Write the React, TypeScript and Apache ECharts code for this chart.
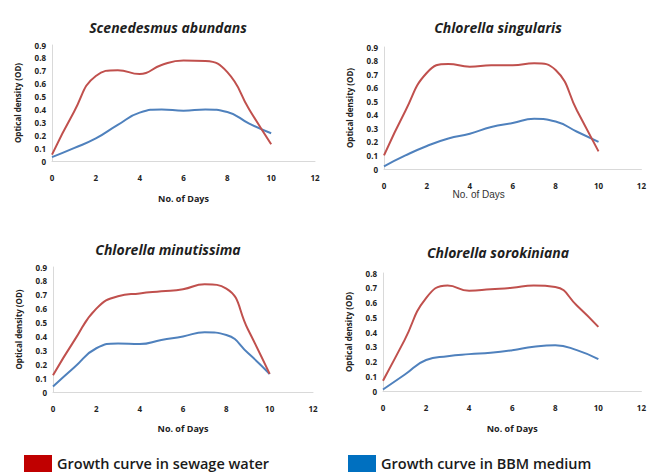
import React, { useEffect, useRef } from "react";
import * as echarts from "echarts";

const days = [0, 1, 2, 3, 4, 5, 6, 7, 8, 9, 10];
const panelTitles = [
  "Scenedesmus abundans",
  "Chlorella singularis",
  "Chlorella minutissima",
  "Chlorella sorokiniana",
];
const sewageLabel = "Growth curve in sewage water";
const bbmLabel = "Growth curve in BBM medium";

const sewageScenedesmus = [0.05, 0.38, 0.66, 0.705, 0.675, 0.745, 0.78, 0.775, 0.69, 0.4, 0.13];
const bbmScenedesmus = [0.03, 0.1, 0.175, 0.28, 0.375, 0.4, 0.39, 0.4, 0.38, 0.29, 0.215];
const sewageSingularis = [0.1, 0.43, 0.71, 0.775, 0.755, 0.765, 0.765, 0.78, 0.73, 0.43, 0.13];
const bbmSingularis = [0.02, 0.1, 0.17, 0.225, 0.26, 0.31, 0.34, 0.37, 0.35, 0.275, 0.2];
const sewageMinutissima = [0.12, 0.375, 0.6, 0.69, 0.71, 0.725, 0.74, 0.775, 0.745, 0.45, 0.13];
const bbmMinutissima = [0.04, 0.18, 0.315, 0.35, 0.345, 0.375, 0.4, 0.43, 0.41, 0.28, 0.13];
const sewageSorokiniana = [0.07, 0.345, 0.63, 0.715, 0.68, 0.69, 0.7, 0.715, 0.705, 0.58, 0.435];
const bbmSorokiniana = [0.01, 0.11, 0.21, 0.236, 0.25, 0.26, 0.277, 0.3, 0.31, 0.277, 0.216];

const yMaxes = [0.9, 0.9, 0.9, 0.8];
const xAxisName = "No. of Days";
const yAxisName = "Optical density (OD)";

const sewageSets = [sewageScenedesmus, sewageSingularis, sewageMinutissima, sewageSorokiniana];
const bbmSets = [bbmScenedesmus, bbmSingularis, bbmMinutissima, bbmSorokiniana];

const grids = [
  { left: 52, top: 45, width: 263, height: 116 },
  { left: 384, top: 47, width: 258, height: 122 },
  { left: 53, top: 267, width: 260, height: 125 },
  { left: 383, top: 273, width: 259, height: 118 },
];
const titlePos = [
  { x: 163, y: 25 },
  { x: 493, y: 25 },
  { x: 163, y: 247 },
  { x: 493, y: 250 },
];
const xNameGaps = [33, 20, 32, 33];

const RED = "#c0504d";
const BLUE = "#4f81bd";
const FONT = "'Open Sans', 'Liberation Sans', sans-serif";

export default function App() {
  const ref = useRef<HTMLDivElement>(null);
  useEffect(() => {
    if (!ref.current) return;
    const chart = echarts.init(ref.current, undefined, { renderer: "svg" });
    const legendText = { fontFamily: FONT, fontSize: 14.5, fontWeight: 600, color: "#1a1a1a" };
    const option: any = {
      animation: false,
      backgroundColor: "#ffffff",
      title: panelTitles.map((t, i) => ({
        text: t,
        left: titlePos[i].x,
        top: titlePos[i].y - 10,
        textAlign: "center",
        textStyle: {
          fontFamily: FONT,
          fontSize: 14,
          fontWeight: "bold",
          fontStyle: "italic",
          color: "#1f1f1f",
        },
      })),
      legend: [
        {
          left: 24,
          top: 455,
          padding: 0,
          itemWidth: 28,
          itemHeight: 17,
          itemGap: 5,
          icon: "rect",
          data: [{ name: sewageLabel, itemStyle: { color: "#c00000" } }],
          textStyle: legendText,
          selectedMode: false,
        },
        {
          left: 348,
          top: 455,
          padding: 0,
          itemWidth: 28,
          itemHeight: 17,
          icon: "rect",
          data: [{ name: bbmLabel, itemStyle: { color: "#0070c0" } }],
          textStyle: legendText,
          selectedMode: false,
        },
      ],
      grid: grids,
      xAxis: grids.map((_, i) => ({
        type: "value",
        gridIndex: i,
        min: 0,
        max: 12,
        interval: 2,
        name: xAxisName,
        nameLocation: "middle",
        nameGap: xNameGaps[i],
        nameTextStyle:
          i === 1
            ? { fontFamily: "'Liberation Sans', Arial, sans-serif", fontSize: 10, color: "#333", padding: [0, 68, 0, 0] }
            : { fontFamily: FONT, fontSize: 9, fontWeight: "bold", color: "#222" },
        axisLine: { show: true, lineStyle: { color: "#d9d9d9", width: 1 } },
        axisTick: { show: false },
        splitLine: { show: false },
        axisLabel: { fontFamily: FONT, fontSize: 8, fontWeight: "bold", color: "#222", margin: 12 },
      })),
      yAxis: grids.map((_, i) => ({
        type: "value",
        gridIndex: i,
        min: 0,
        max: yMaxes[i],
        interval: 0.1,
        name: yAxisName,
        nameLocation: "middle",
        nameGap: 31,
        nameTextStyle: { fontFamily: FONT, fontSize: 8, fontWeight: "bold", color: "#222" },
        axisLine: { show: true, lineStyle: { color: "#d9d9d9", width: 1 } },
        axisTick: { show: false },
        splitLine: { show: false },
        axisLabel: {
          fontFamily: FONT,
          fontSize: 8,
          fontWeight: "bold",
          color: "#222",
          margin: 6,
          formatter: (v: number) => (v === 0 ? "0" : v.toFixed(1)),
        },
      })),
      series: [
        ...sewageSets.map((s, i) => ({
          name: sewageLabel,
          type: "line",
          xAxisIndex: i,
          yAxisIndex: i,
          smooth: 0.5,
          showSymbol: false,
          symbol: "none",
          color: RED,
          lineStyle: { color: RED, width: 2 },
          data: days.map((d, k) => [d, s[k]]),
          z: 3,
        })),
        ...bbmSets.map((s, i) => ({
          name: bbmLabel,
          type: "line",
          xAxisIndex: i,
          yAxisIndex: i,
          smooth: 0.5,
          showSymbol: false,
          symbol: "none",
          color: BLUE,
          lineStyle: { color: BLUE, width: 2 },
          data: days.map((d, k) => [d, s[k]]),
          z: 2,
        })),
      ],
    };
    chart.setOption(option);
    return () => chart.dispose();
  }, []);
  return (
    <div
      ref={ref}
      style={{ position: "fixed", left: 0, top: 0, width: 649, height: 473, background: "#fff" }}
    />
  );
}
